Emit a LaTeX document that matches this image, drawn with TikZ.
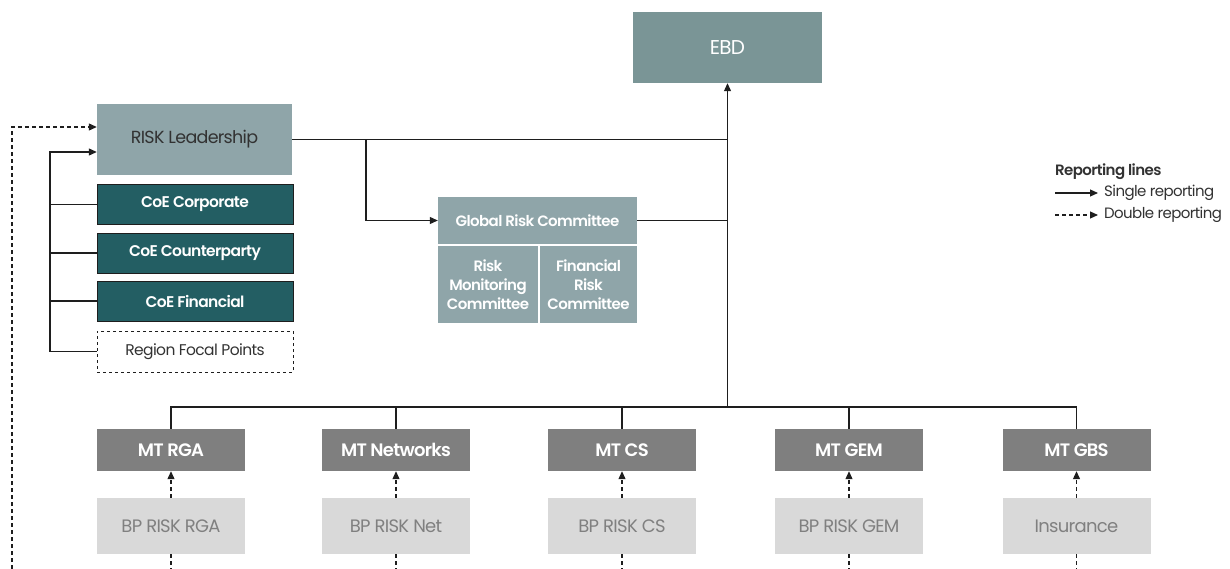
\documentclass[tikz,border=0pt]{standalone}
\usepackage{fontspec}
\setmainfont{Poppins}[LetterSpace=-4,BoldFont={Poppins SemiBold}]
\usetikzlibrary{arrows.meta}
\definecolor{ebdc}{RGB}{122,149,150}
\definecolor{leadc}{RGB}{143,165,169}
\definecolor{coec}{RGB}{35,94,99}
\definecolor{mtc}{RGB}{127,127,127}
\definecolor{bpc}{RGB}{217,217,217}
\definecolor{bptext}{RGB}{128,128,128}
\definecolor{lnc}{RGB}{30,30,30}
\definecolor{txtc}{RGB}{50,50,50}
\newcommand{\fs}[2]{\fontsize{#1}{#2}\selectfont}
\begin{document}
\begin{tikzpicture}[x=1pt,y=-1pt,
  box/.style={rectangle,inner sep=0pt,align=center,anchor=center},
  ebdbox/.style={box,fill=ebdc,text=white,minimum width=189pt,minimum height=71pt,font=\fs{20}{24}},
  leadbox/.style={box,fill=leadc,text=txtc,minimum width=195pt,minimum height=71pt,font=\fs{17.5}{20}},
  coebox/.style={box,fill=coec,text=white,draw=lnc,line width=0.5pt,minimum width=196pt,minimum height=40pt,font=\bfseries\fs{15.5}{18}},
  focbox/.style={box,draw=lnc,dashed,line width=0.6pt,text=txtc,minimum width=196pt,minimum height=41pt,font=\fs{15.5}{18}},
  grcbox/.style={box,fill=leadc,text=white,font=\bfseries\fs{15}{19}},
  mtbox/.style={box,fill=mtc,text=white,minimum width=148pt,minimum height=42pt,font=\bfseries\fs{18}{21}},
  bpbox/.style={box,fill=bpc,text=bptext,minimum width=148pt,minimum height=56pt,font=\fs{18}{21}},
  ln/.style={draw=lnc,line width=1.1pt},
  sing/.style={ln,-{Triangle[length=8pt,width=7pt]}},
  dbl/.style={ln,dashed,dash pattern=on 4pt off 3pt,-{Triangle[length=8pt,width=7pt]}},
  dsh/.style={ln,dashed,dash pattern=on 4pt off 3pt},
  lgtxt/.style={anchor=west,inner sep=0pt,text=txtc,font=\fs{15}{17}}
]
\useasboundingbox (0,0) rectangle (1230,569);

% top
\node[ebdbox] (EBD) at (727.5,47.5) {EBD};
\node[leadbox] (RL) at (194.5,139.5) {RISK Leadership};
\node[coebox] (C1) at (195,204.5) {CoE Corporate};
\node[coebox] (C2) at (195,253) {CoE Counterparty};
\node[coebox] (C3) at (195,301) {CoE Financial};
\node[focbox] (RF) at (195,351.5) {Region Focal Points};

% committees
\node[grcbox,minimum width=199pt,minimum height=47pt] (GRC) at (537.5,220.5) {Global Risk Committee};
\node[grcbox,minimum width=100pt,minimum height=77pt] (RMC) at (488,284.5) {Risk\\Monitoring\\Committee};
\node[grcbox,minimum width=97pt,minimum height=77pt] (FRC) at (588.5,284.5) {Financial\\Risk\\Committee};

% bottom
\foreach \i/\x/\a/\b in {1/171/MT RGA/BP RISK RGA,2/396/MT Networks/BP RISK Net,3/622/MT CS/BP RISK CS,4/849/MT GEM/BP RISK GEM,5/1076.5/MT GBS/Insurance}{
  \node[mtbox] (MT\i) at (\x,450) {\a};
  \node[bpbox] (BP\i) at (\x,526) {\b};
}

% coordinates
\coordinate (jn) at (EBD.south |- RL.east);
\coordinate (bus) at (EBD.south |- 0,407);
\coordinate (br) at (366,140);
\coordinate (lbtop) at (50,152);
\coordinate (lbbot) at (50,351.5);
\coordinate (dtop) at (12,127);
\coordinate (dbot) at (12,569);

% connectors
\draw[sing] (bus) -- (EBD.south);
\draw[ln] (RL.east) -- (jn);
\draw[sing] (br) |- (GRC.west);
\draw[ln] (GRC.east) -- (GRC.east -| EBD.south);
\draw[ln] (MT1.north) |- (bus) -| (MT5.north);
\foreach \i in {2,3,4}{ \draw[ln] (MT\i.north) -- (MT\i.north |- bus); }
\foreach \i in {1,...,5}{
  \draw[dbl] (BP\i.north) -- (MT\i.south);
  \draw[dsh] (BP\i.south) -- (BP\i.south |- dbot);
}
\draw[sing] (lbbot) -- (lbtop) -- (RL.west |- lbtop);
\draw[ln] (lbbot) -- (RF.west);
\foreach \c in {C1,C2,C3}{ \draw[ln] (lbtop |- \c.west) -- (\c.west); }
\draw[dbl] (dbot) -- (dtop) -- (RL.west |- dtop);

% legend
\node[lgtxt,font=\bfseries\fs{15}{17}] (LG) at (1055,172) {Reporting lines};
\coordinate (s1) at (1055,193);
\coordinate (s2) at (1098,193);
\coordinate (d1) at (1055,215);
\coordinate (d2) at (1098,215);
\draw[sing] (s1) -- (s2);
\draw[dbl] (d1) -- (d2);
\node[lgtxt] (LS) at (1104,193) {Single reporting};
\node[lgtxt] (LD) at (1104,215) {Double reporting};
\end{tikzpicture}
\end{document}
